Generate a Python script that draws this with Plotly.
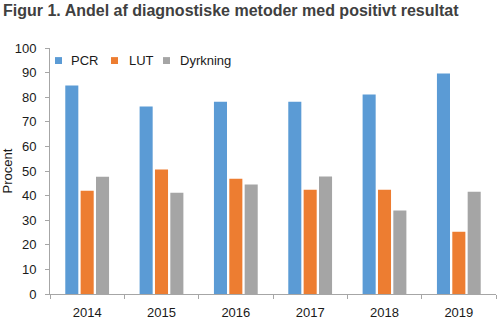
import plotly.graph_objects as go

years = ["2014", "2015", "2016", "2017", "2018", "2019"]
pcr = [84.8, 76.2, 78.2, 78.2, 81.1, 89.6]
lut = [42.0, 50.6, 46.9, 42.4, 42.4, 25.3]
dyrkning = [47.7, 41.2, 44.5, 47.8, 33.9, 41.6]

series = [
    ("PCR", pcr, "#5B9BD5"),
    ("LUT", lut, "#ED7D31"),
    ("Dyrkning", dyrkning, "#A5A5A5"),
]

# legend swatch / label anchors (paper fractions of the plot area)
legend_swatch_x = [0.0112, 0.1368, 0.2534]
legend_swatch_w = 0.0157
legend_text_x = [0.0426, 0.1726, 0.2870]
legend_y0, legend_y1, legend_ymid = 0.935, 0.963, 0.949

text_color = "#1a1a1a"
font_family = "Liberation Sans"

fig = go.Figure()
for name, vals, color in series:
    fig.add_trace(go.Bar(x=years, y=vals, name=name, marker_color=color,
                         marker_line_width=0))

# legend drawn as swatches + labels inside the plot area
for (name, _, color), sx, tx in zip(series, legend_swatch_x, legend_text_x):
    fig.add_shape(type="rect", xref="paper", yref="paper",
                  x0=sx, x1=sx + legend_swatch_w, y0=legend_y0, y1=legend_y1,
                  fillcolor=color, line_width=0)
    fig.add_annotation(xref="paper", yref="paper", x=tx, y=legend_ymid,
                       xanchor="left", yanchor="middle", showarrow=False,
                       text=name, font=dict(family=font_family, size=13, color=text_color))

tick_font = dict(family=font_family, size=13, color=text_color)

fig.update_layout(
    width=501, height=324,
    margin=dict(l=50, r=5, t=48, b=30),
    paper_bgcolor="white", plot_bgcolor="white",
    barmode="group", bargap=0.38, bargroupgap=0.15,
    showlegend=False,
    title=dict(text="<b>Figur 1. Andel af diagnostiske metoder med positivt resultat</b>",
               font=dict(family=font_family, size=16, color="#404040"),
               xref="container", x=0.006, xanchor="left",
               yref="container", y=0.967, yanchor="middle"),
)
fig.update_yaxes(range=[0, 100], dtick=10, showgrid=False, zeroline=False,
                 showline=True, linecolor="#A6A6A6", linewidth=1,
                 ticks="outside", ticklen=4, tickcolor="#A6A6A6",
                 ticklabelstandoff=6, automargin=False,
                 tickfont=tick_font,
                 title=dict(text="Procent", standoff=4,
                            font=dict(family=font_family, size=13, color=text_color)))
fig.update_xaxes(showgrid=False, showline=True, linecolor="#A6A6A6", linewidth=1,
                 ticks="outside", ticklen=4, tickcolor="#A6A6A6",
                 ticklabelstandoff=6, automargin=False,
                 tickson="boundaries", tickfont=tick_font)

fig.write_html("out.html")
